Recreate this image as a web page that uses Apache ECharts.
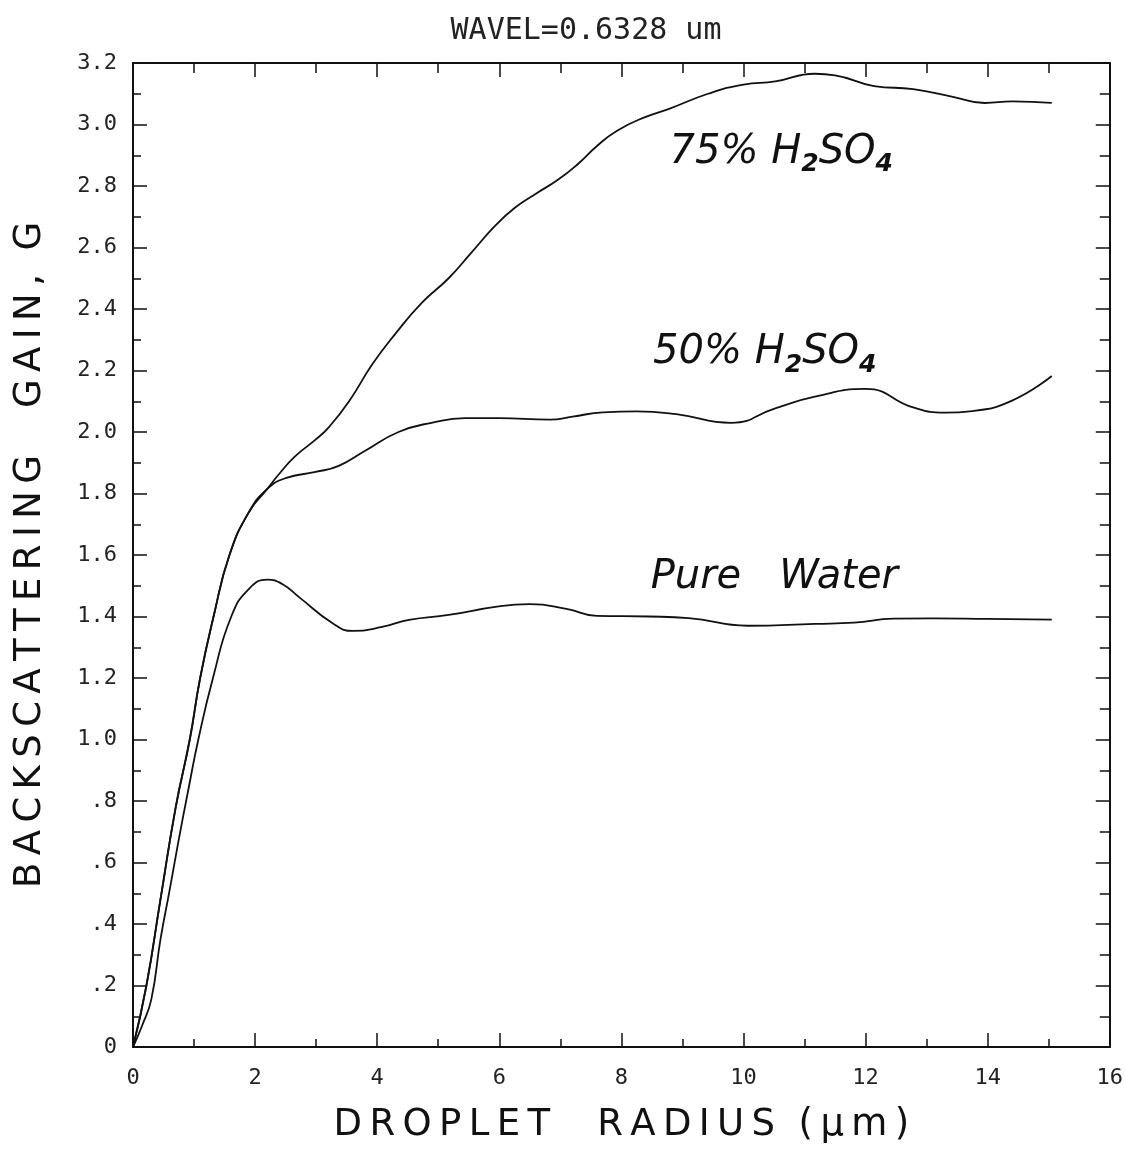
<!DOCTYPE html>
<html>
<head>
<meta charset="utf-8">
<title>Backscattering gain</title>
<script src="https://cdn.jsdelivr.net/npm/echarts@6.0.0/dist/echarts.min.js"></script>
<style>
html, body { margin: 0; background: #fff; }
#main { width: 1126px; height: 1159px; }
</style>
</head>
<body>
<div id="main"></div>
<script>
// droplet radius (um) / backscattering gain G
// both acid curves share the first rise
var riseX = [0, 0.22, 0.45, 0.70, 0.93, 1.10, 1.32, 1.58, 1.90, 2.20];
var riseY = [0, 0.20, 0.48, 0.78, 1.00, 1.20, 1.40, 1.60, 1.74, 1.815];

var acid50X = [2.50, 2.99, 3.37, 3.81, 4.35, 4.89, 5.44, 5.99, 6.83, 7.20, 7.70, 8.25, 8.90, 9.80, 10.52, 11.17, 12.00, 12.78, 13.30, 13.75, 14.40, 15.05];
var acid50Y = [1.85, 1.87, 1.89, 1.94, 2.00, 2.03, 2.045, 2.045, 2.04, 2.05, 2.064, 2.067, 2.058, 2.03, 2.077, 2.115, 2.14, 2.08, 2.063, 2.068, 2.102, 2.182];

var acid75X = [2.40, 2.65, 2.99, 3.21, 3.54, 3.92, 4.30, 4.73, 5.17, 5.55, 5.93, 6.26, 6.60, 6.96, 7.28, 7.60, 7.93, 8.40, 8.77, 9.42, 10.00, 10.52, 11.17, 11.50, 12.14, 12.78, 13.43, 13.95, 14.40, 15.05];
var acid75Y = [1.865, 1.92, 1.975, 2.016, 2.10, 2.22, 2.32, 2.42, 2.50, 2.585, 2.67, 2.73, 2.775, 2.82, 2.87, 2.93, 2.98, 3.025, 3.05, 3.10, 3.13, 3.14, 3.165, 3.16, 3.125, 3.115, 3.09, 3.07, 3.075, 3.07];

var waterX = [0, 0.15, 0.30, 0.45, 0.60, 0.75, 0.90, 1.07, 1.31, 1.61, 1.90, 2.20, 2.45, 2.72, 3.27, 3.60, 4.08, 4.52, 5.17, 5.99, 6.50, 7.10, 7.60, 8.45, 9.10, 10.07, 11.17, 11.81, 12.46, 13.11, 14.00, 15.05];
var waterY = [0, 0.07, 0.155, 0.35, 0.51, 0.675, 0.83, 1.00, 1.20, 1.40, 1.49, 1.52, 1.505, 1.463, 1.378, 1.353, 1.366, 1.389, 1.405, 1.433, 1.44, 1.425, 1.402, 1.40, 1.395, 1.37, 1.376, 1.38, 1.393, 1.394, 1.392, 1.39];

// curve labels: [text, x, y] in data units (left edge, vertical middle)
var curveLabels = [
    ['{a|75% H}{s|2}{a|SO}{s|4}', 8.79, 2.91],
    ['{a|50% H}{s|2}{a|SO}{s|4}', 8.52, 2.257],
    ['{a|Pure   Water}', 8.48, 1.528]
];

function pairs(xs, ys) {
    return xs.map(function (x, i) { return [x, ys[i]]; });
}
function spaced(s) {
    return s.split('').join('\u2009');
}

var myChart = echarts.init(document.getElementById('main'));

var tickFont = { fontFamily: 'DejaVu Sans Mono', fontSize: 22, color: '#222' };
var black = '#111';

function line(name, data) {
    return {
        name: name,
        type: 'line',
        data: data,
        smooth: 0.5,
        symbol: 'none',
        lineStyle: { color: black, width: 1.8 },
        z: 3
    };
}

option = {
    animation: false,
    backgroundColor: '#fff',
    title: {
        text: 'WAVEL=0.6328 um',
        left: 581,
        top: 11,
        textAlign: 'center',
        textStyle: { fontFamily: 'DejaVu Sans Mono', fontSize: 30, fontWeight: 'normal', color: '#222' }
    },
    grid: { left: 133, right: 12, top: 63, bottom: 112 },
    xAxis: [{
        type: 'value',
        min: 0, max: 16, interval: 2,
        name: spaced('DROPLET') + '    ' + spaced('RADIUS') + '  ' + spaced('(\u03bcm)'),
        nameLocation: 'middle',
        nameGap: 60,
        nameTextStyle: { fontFamily: 'DejaVu Sans', fontSize: 37, color: '#111' },
        axisLine: { onZero: false, lineStyle: { color: black, width: 2 } },
        axisTick: { inside: true, length: 14, lineStyle: { color: black, width: 1.5 } },
        minorTick: { show: true, splitNumber: 2, length: 8, lineStyle: { color: black, width: 1.5 } },
        axisLabel: Object.assign({ margin: 20 }, tickFont),
        splitLine: { show: false }
    }, {
        type: 'value',
        position: 'top',
        min: 0, max: 16, interval: 2,
        axisLine: { show: true, onZero: false, lineStyle: { color: black, width: 2 } },
        axisTick: { show: true, inside: true, length: 14, lineStyle: { color: black, width: 1.5 } },
        minorTick: { show: true, splitNumber: 2, length: 10, lineStyle: { color: black, width: 1.5 } },
        axisLabel: { show: false },
        splitLine: { show: false }
    }],
    yAxis: [{
        type: 'value',
        min: 0, max: 3.2, interval: 0.2,
        name: spaced('BACKSCATTERING') + '    ' + spaced('GAIN,') + '  ' + 'G',
        nameLocation: 'middle',
        nameGap: 84,
        nameTextStyle: { fontFamily: 'DejaVu Sans', fontSize: 37, color: '#111' },
        axisLine: { onZero: false, lineStyle: { color: black, width: 2 } },
        axisTick: { inside: true, length: 14, lineStyle: { color: black, width: 1.5 } },
        minorTick: { show: true, splitNumber: 2, length: 8, lineStyle: { color: black, width: 1.5 } },
        axisLabel: Object.assign({
            margin: 16,
            formatter: function (v) {
                if (v === 0) return '0';
                var s = v.toFixed(1);
                return v < 1 ? s.slice(1) : s;
            }
        }, tickFont),
        splitLine: { show: false }
    }, {
        type: 'value',
        position: 'right',
        min: 0, max: 3.2, interval: 0.2,
        axisLine: { show: true, onZero: false, lineStyle: { color: black, width: 2 } },
        axisTick: { show: true, inside: true, length: 14, lineStyle: { color: black, width: 1.5 } },
        minorTick: { show: true, splitNumber: 2, length: 10, lineStyle: { color: black, width: 1.5 } },
        axisLabel: { show: false },
        splitLine: { show: false }
    }],
    series: [
        line('75% H2SO4', pairs(riseX.concat(acid75X), riseY.concat(acid75Y))),
        line('50% H2SO4', pairs(riseX.concat(acid50X), riseY.concat(acid50Y))),
        line('Pure Water', pairs(waterX, waterY))
    ]
};
myChart.setOption(option);

// curve labels placed through the axes
var labelRich = {
    a: { fontFamily: 'DejaVu Sans', fontStyle: 'italic', fontSize: 40, lineHeight: 50, verticalAlign: 'middle', fill: '#111' },
    s: { fontFamily: 'DejaVu Sans', fontStyle: 'italic', fontWeight: 'bold', fontSize: 25, lineHeight: 22, verticalAlign: 'bottom', fill: '#111' }
};
myChart.setOption({
    graphic: curveLabels.map(function (c) {
        var p = myChart.convertToPixel({ xAxisIndex: 0, yAxisIndex: 0 }, [c[1], c[2]]);
        return {
            type: 'text',
            x: p[0],
            y: p[1],
            style: {
                text: c[0],
                rich: labelRich,
                textAlign: 'left',
                textVerticalAlign: 'middle',
                verticalAlign: 'middle'
            },
            z: 10
        };
    })
});
</script>
</body>
</html>
